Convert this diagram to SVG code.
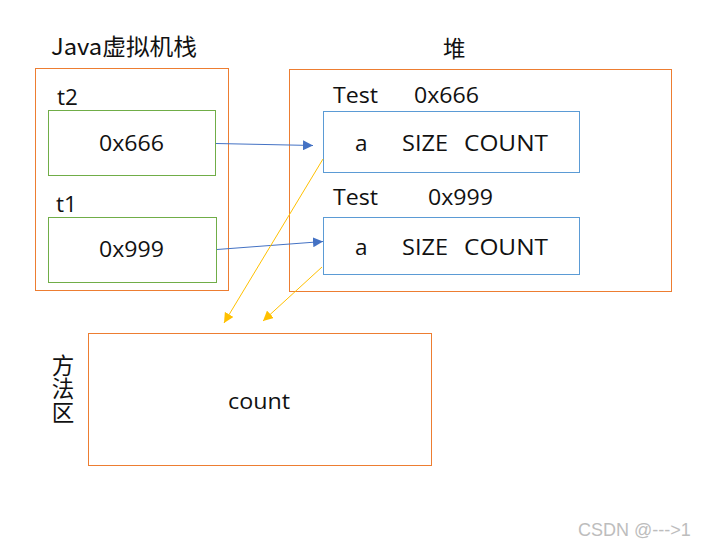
<svg xmlns="http://www.w3.org/2000/svg" width="707" height="545" viewBox="0 0 707 545">
<defs>
<style>
text{font-family:"Open Sans","Noto Sans CJK SC",sans-serif;font-size:22.5px;fill:#111}
.cjk{font-family:"Noto Sans CJK SC",sans-serif}
.orange{fill:#fff;stroke:#ED7D31;stroke-width:1}
.green{fill:#fff;stroke:#70AD47;stroke-width:1}
.blue{fill:#fff;stroke:#5B9BD5;stroke-width:1}
.bl{stroke:#4472C4;stroke-width:1;fill:none}
.yl{stroke:#FFC000;stroke-width:1;fill:none}
</style>
<marker id="ab" viewBox="0 0 10 10" refX="10" refY="5" markerWidth="10" markerHeight="10" markerUnits="userSpaceOnUse" orient="auto"><path d="M0,0 L10,5 L0,10 z" fill="#4472C4"/></marker>
<marker id="ay" viewBox="0 0 10 10" refX="10" refY="5" markerWidth="10" markerHeight="10" markerUnits="userSpaceOnUse" orient="auto"><path d="M0,0 L10,5 L0,10 z" fill="#FFC000"/></marker>
</defs>
<rect width="707" height="545" fill="#fff"/>
<g id="stack">
<rect class="orange" x="35.5" y="68.5" width="193" height="222"/>
<text class="cjk" x="51" y="55" font-size="22" textLength="146" lengthAdjust="spacingAndGlyphs">Java虚拟机栈</text>
</g>
<g id="t2">
<text x="57" y="105">t2</text>
<rect class="green" x="48.5" y="110.5" width="167" height="65"/>
<text x="99" y="151" textLength="65" lengthAdjust="spacingAndGlyphs">0x666</text>
</g>
<g id="t1">
<text x="56" y="212">t1</text>
<rect class="green" x="48.5" y="217.5" width="168" height="65"/>
<text x="99" y="257" textLength="65" lengthAdjust="spacingAndGlyphs">0x999</text>
</g>
<g id="heap">
<rect class="orange" x="289.5" y="69.5" width="382" height="222"/>
<text class="cjk" x="443" y="57" font-size="22">堆</text>
</g>
<g id="obj1">
<text x="333" y="103" textLength="45" lengthAdjust="spacingAndGlyphs">Test</text>
<text x="414" y="103" textLength="65" lengthAdjust="spacingAndGlyphs">0x666</text>
<rect class="blue" x="323.5" y="111.5" width="256" height="61"/>
<text x="355" y="151">a</text>
<text x="402" y="151" textLength="46" lengthAdjust="spacingAndGlyphs">SIZE</text>
<text x="464" y="151" textLength="84" lengthAdjust="spacingAndGlyphs">COUNT</text>
</g>
<g id="obj2">
<text x="333" y="205" textLength="45" lengthAdjust="spacingAndGlyphs">Test</text>
<text x="428" y="205" textLength="65" lengthAdjust="spacingAndGlyphs">0x999</text>
<rect class="blue" x="323.5" y="217.5" width="256" height="57"/>
<text x="355" y="255">a</text>
<text x="402" y="255" textLength="46" lengthAdjust="spacingAndGlyphs">SIZE</text>
<text x="464" y="255" textLength="84" lengthAdjust="spacingAndGlyphs">COUNT</text>
</g>
<g id="method">
<rect class="orange" x="88.5" y="333.5" width="343" height="132"/>
<text x="228" y="409" textLength="62" lengthAdjust="spacingAndGlyphs">count</text>
<text class="cjk" x="63" y="354" font-size="23" style="writing-mode:vertical-rl;letter-spacing:1px">方法区</text>
</g>
<g id="connectors">
<line class="bl" x1="216" y1="143.5" x2="313" y2="145.5" marker-end="url(#ab)"/>
<line class="bl" x1="217" y1="249.5" x2="323" y2="241.5" marker-end="url(#ab)"/>
<line class="yl" x1="323" y1="159" x2="224" y2="323" marker-end="url(#ay)"/>
<line class="yl" x1="322" y1="267" x2="263" y2="321" marker-end="url(#ay)"/>
</g>
<text x="578" y="536" style="font-family:'Liberation Sans',sans-serif;font-size:18px;fill:#bdbdbd">CSDN @---&gt;1</text>
</svg>
